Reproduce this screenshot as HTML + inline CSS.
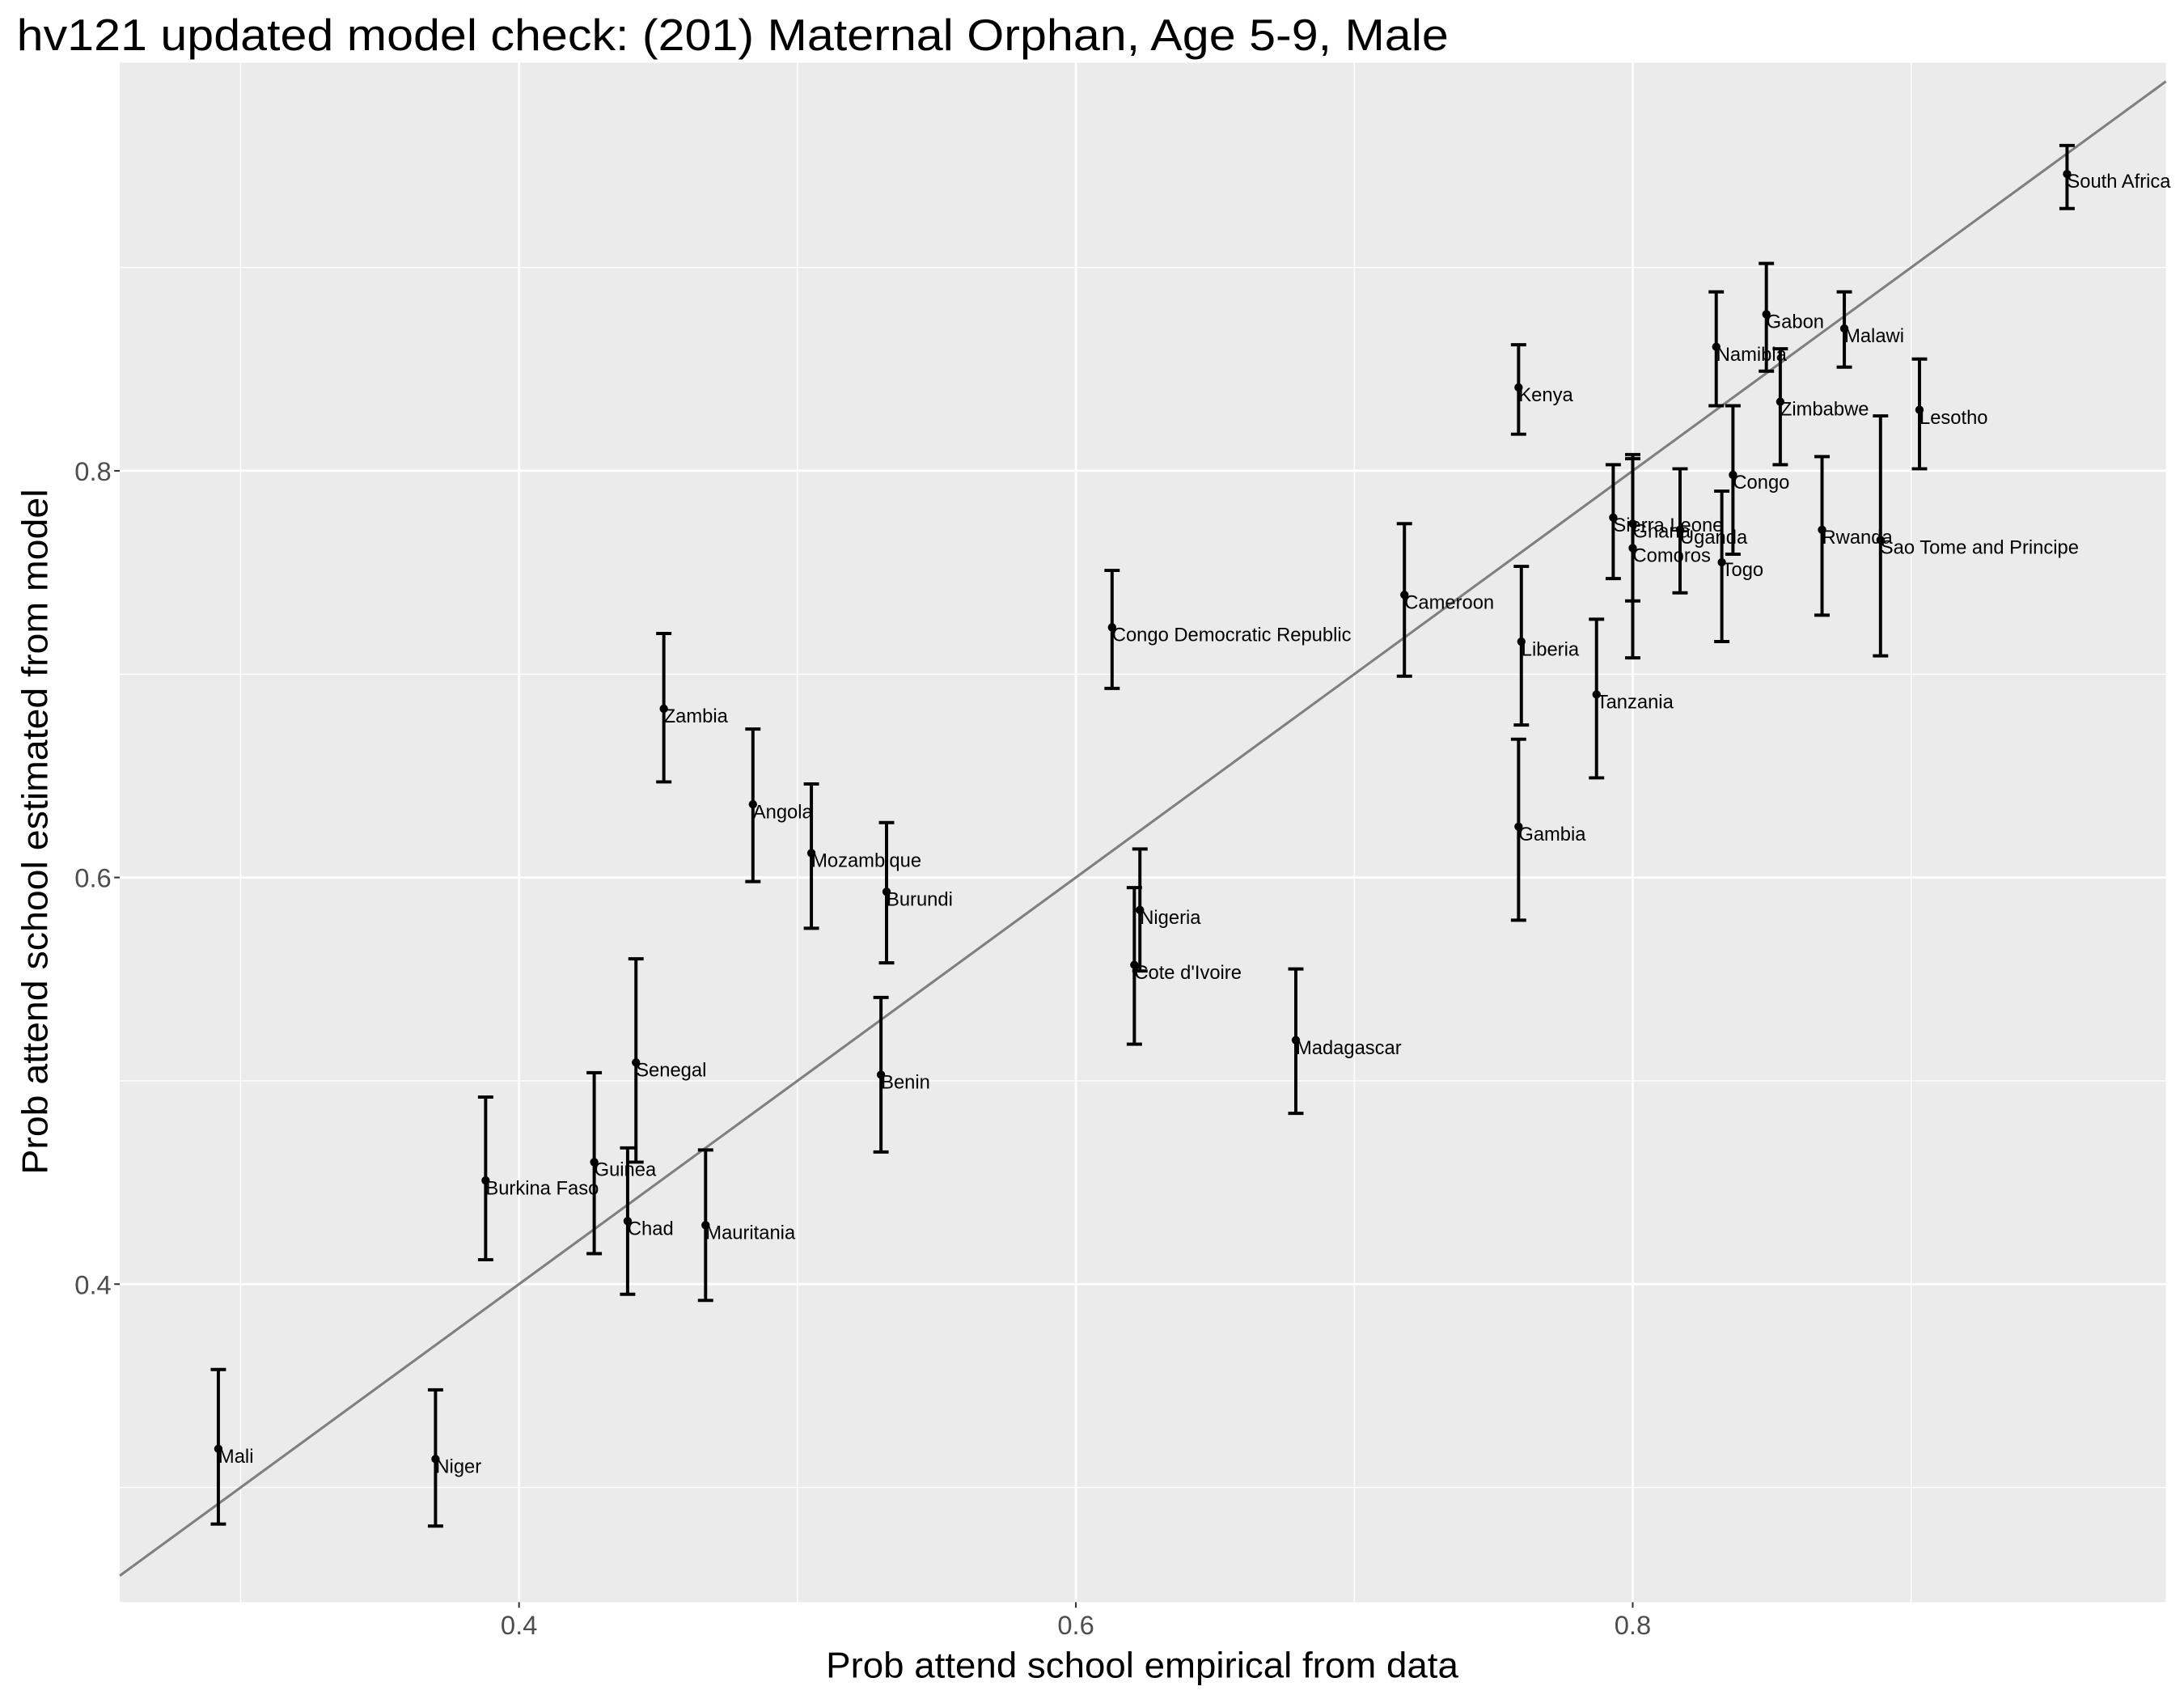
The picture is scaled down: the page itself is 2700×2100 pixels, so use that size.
<!DOCTYPE html>
<html><head><meta charset="utf-8"><style>
html,body{margin:0;padding:0;background:#fff}
svg{display:block}
text{font-family:"Liberation Sans",Arial,sans-serif}
</style></head><body>
<svg id="chart" width="2700" height="2100" viewBox="0 0 1568 1219.5" xmlns="http://www.w3.org/2000/svg">
<text x="12" y="36" font-size="32" fill="#000" textLength="1028" lengthAdjust="spacingAndGlyphs">hv121 updated model check: (201) Maternal Orphan, Age 5-9, Male</text>
<rect x="86" y="45" width="1469" height="1105" fill="#ebebeb"/>
<g id="grid"></g>
<g id="diag"></g>
<g id="marks"></g>
<g id="axes"></g>
<text x="820" y="1204" font-size="26" text-anchor="middle" fill="#000" textLength="454" lengthAdjust="spacingAndGlyphs">Prob attend school empirical from data</text>
<text transform="translate(34,597) rotate(-90)" font-size="26" text-anchor="middle" fill="#000" textLength="492" lengthAdjust="spacingAndGlyphs">Prob attend school estimated from model</text>
</svg>
<script>
const countries=["Mali","Niger","Burkina Faso","Guinea","Senegal","Chad","Mauritania","Zambia","Angola","Mozambique","Burundi","Benin","Congo Democratic Republic","Nigeria","Cote d'Ivoire","Madagascar","Cameroon","Kenya","Liberia","Gambia","Tanzania","Sierra Leone","Ghana","Comoros","Uganda","Togo","Congo","Namibia","Gabon","Zimbabwe","Malawi","Lesotho","Rwanda","Sao Tome and Principe","South Africa"];
const empirical=[0.292,0.370,0.388,0.427,0.442,0.439,0.467,0.452,0.484,0.505,0.532,0.530,0.613,0.623,0.621,0.679,0.718,0.759,0.760,0.759,0.787,0.793,0.800,0.800,0.817,0.832,0.836,0.830,0.848,0.853,0.876,0.903,0.868,0.889,0.956];
const estimate=[0.319,0.314,0.451,0.460,0.509,0.431,0.429,0.683,0.636,0.612,0.593,0.503,0.723,0.584,0.557,0.520,0.739,0.841,0.716,0.625,0.690,0.777,0.774,0.762,0.771,0.755,0.798,0.861,0.877,0.834,0.870,0.830,0.771,0.766,0.946];
const upper=[0.358,0.348,0.492,0.504,0.560,0.467,0.466,0.720,0.673,0.646,0.627,0.541,0.751,0.614,0.595,0.555,0.774,0.862,0.753,0.668,0.727,0.803,0.808,0.806,0.801,0.790,0.832,0.888,0.902,0.860,0.888,0.855,0.807,0.827,0.960];
const lower=[0.282,0.281,0.412,0.415,0.460,0.395,0.392,0.647,0.598,0.575,0.558,0.465,0.693,0.554,0.518,0.484,0.699,0.818,0.675,0.579,0.649,0.747,0.736,0.708,0.740,0.716,0.759,0.832,0.849,0.803,0.851,0.801,0.729,0.709,0.929];
const majorTicks=[0.4,0.6,0.8];
const minorTicks=[0.3,0.5,0.7,0.9];
const tickLabels=["0.4","0.6","0.8"];
const xDomain=[0.2566,0.9915], yDomain=[0.2436,1.0007];
const PL=86,PR=1555,PT=45,PB=1150;
const sx=v=>PL+(v-xDomain[0])/(xDomain[1]-xDomain[0])*(PR-PL);
const sy=v=>PB-(v-yDomain[0])/(yDomain[1]-yDomain[0])*(PB-PT);
const NS="http://www.w3.org/2000/svg";
function mk(tag,attrs,parent){const e=document.createElementNS(NS,tag);for(const k in attrs)e.setAttribute(k,attrs[k]);parent.appendChild(e);return e;}
const grid=document.getElementById('grid'),marks=document.getElementById('marks'),axes=document.getElementById('axes'),diag=document.getElementById('diag');
minorTicks.forEach(t=>{
 let l=mk('line',{x1:sx(t),x2:sx(t),y1:PT,y2:PB,stroke:'#fff','stroke-width':0.8},grid);
 
 
 l=mk('line',{x1:PL,x2:PR,y1:sy(t),y2:sy(t),stroke:'#fff','stroke-width':0.8},grid);
 
 
});
majorTicks.forEach((t,i)=>{
 let l=mk('line',{x1:sx(t),x2:sx(t),y1:PT,y2:PB,stroke:'#fff','stroke-width':1.6},grid);
 
 
 l=mk('line',{x1:PL,x2:PR,y1:sy(t),y2:sy(t),stroke:'#fff','stroke-width':1.6},grid);
 
 
 let tk=mk('line',{x1:sx(t),x2:sx(t),y1:PB,y2:PB+4,stroke:'#333','stroke-width':1.2},axes);
 
 
 let tx=mk('text',{x:sx(t),y:PB+23,'font-size':19,'text-anchor':'middle',fill:'#4d4d4d'},axes);
 tx.textContent=tickLabels[i];
 
 
 tk=mk('line',{x1:PL-4,x2:PL,y1:sy(t),y2:sy(t),stroke:'#333','stroke-width':1.2},axes);
 
 
 tx=mk('text',{x:PL-6,y:sy(t)+7,'font-size':19,'text-anchor':'end',fill:'#4d4d4d'},axes);
 tx.textContent=tickLabels[i];
 
 
});
const d0=Math.max(xDomain[0],yDomain[0]),d1=Math.min(xDomain[1],yDomain[1]);
const dl=mk('line',{x1:sx(d0),y1:sy(d0),x2:sx(d1),y2:sy(d1),stroke:'#7f7f7f','stroke-width':1.8},diag);


countries.forEach((c,i)=>{
 const x=sx(empirical[i]),yh=sy(upper[i]),yl=sy(lower[i]),y=sy(estimate[i]);
 const g=mk('g',{},marks);
 
 
 const p=mk('path',{d:`M${x-5.5},${yh}H${x+5.5}M${x},${yh}V${yl}M${x-5.5},${yl}H${x+5.5}`,stroke:'#000','stroke-width':2.3,fill:'none'},g);
 
 
 const ci=mk('circle',{cx:x,cy:y,r:3,fill:'#000'},g);
 
 
 const t=mk('text',{x:x,y:y+10,'font-size':13.8,fill:'#000'},g);
 t.textContent=c;
 
 
});
</script>
</body></html>
